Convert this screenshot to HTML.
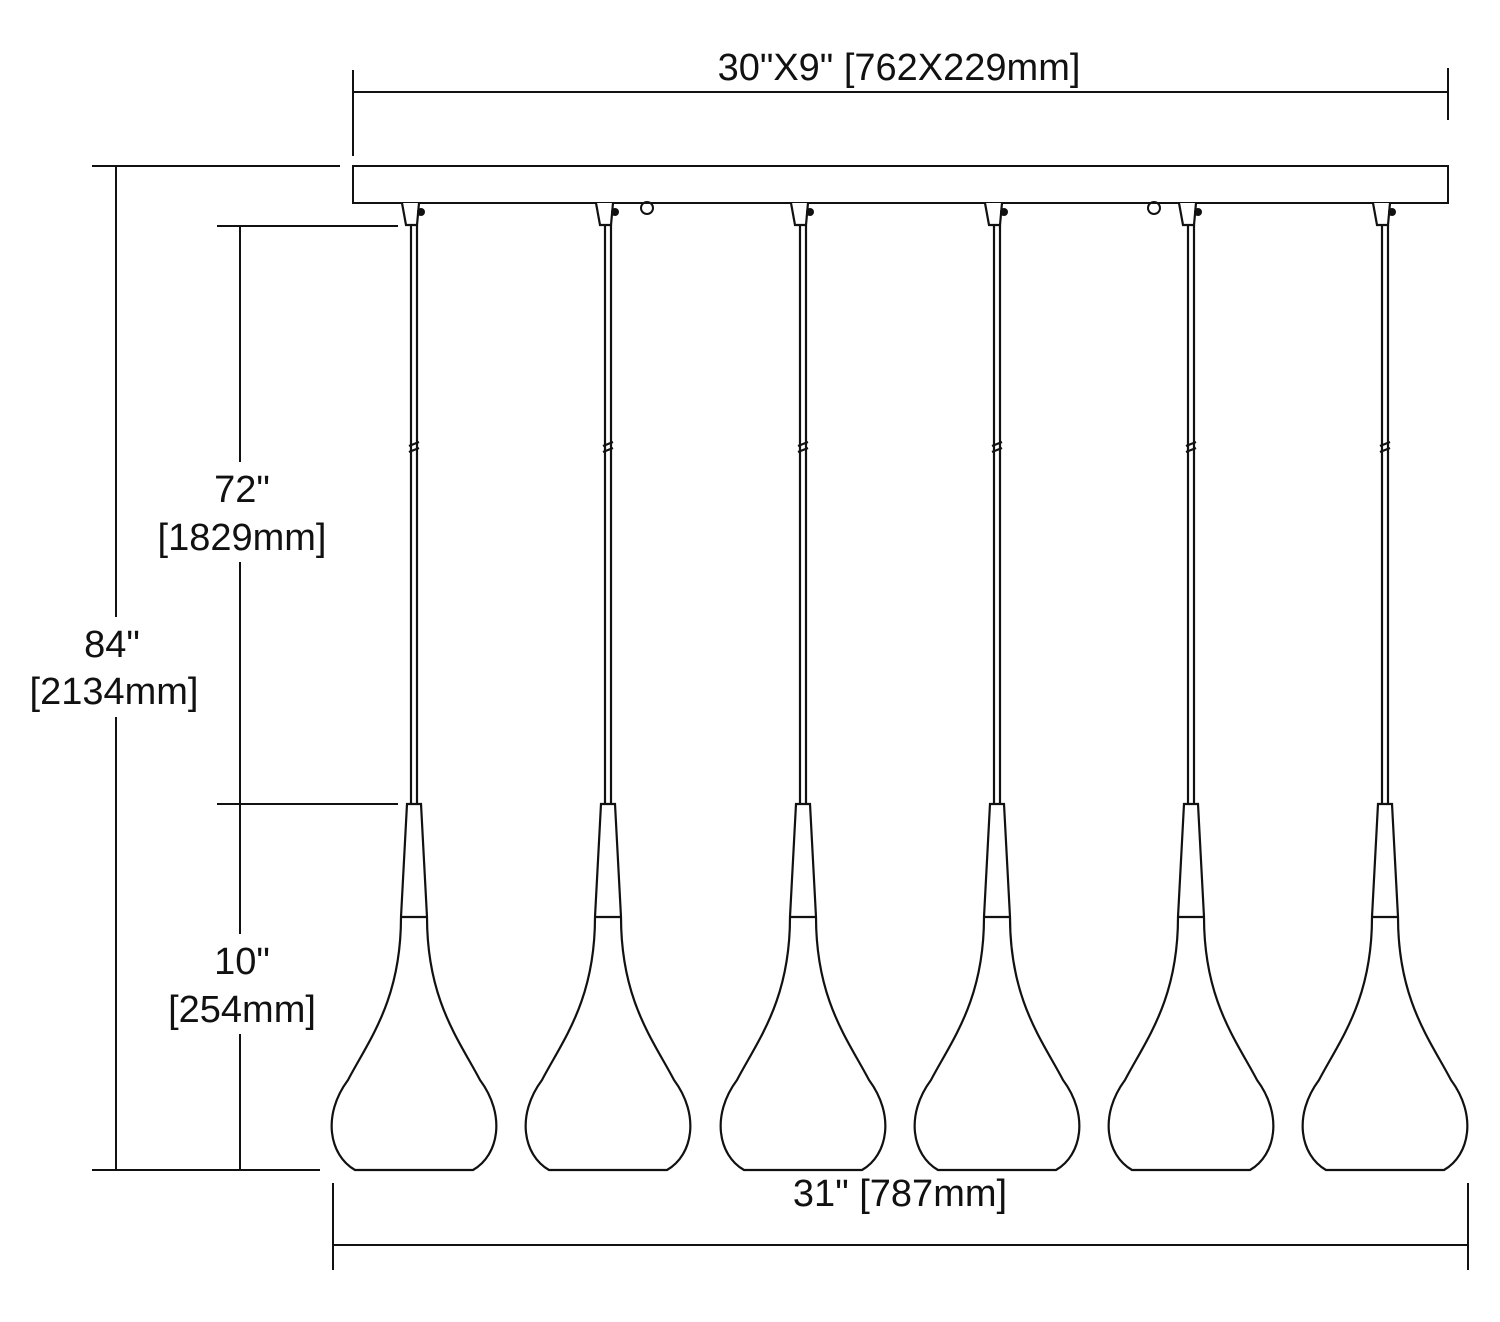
<!DOCTYPE html>
<html><head><style>
html,body{margin:0;padding:0;background:#fff}
svg{display:block}
text{font-family:"Liberation Sans",Arial,sans-serif;font-size:38px;fill:#111;text-anchor:middle}
</style></head><body>
<svg width="1500" height="1322" viewBox="0 0 1500 1322" xmlns="http://www.w3.org/2000/svg">
<defs>
<g id="p" fill="none" stroke="#111" stroke-width="2.2">
  <path d="M-12,203 L-8,225 L3,225 L5,203" fill="#fff"/>
  <circle cx="7" cy="212" r="4" fill="#111" stroke="none"/>
  <line x1="-3" y1="225" x2="-3" y2="804"/>
  <line x1="3" y1="225" x2="3" y2="804"/>
  <line x1="-5" y1="446" x2="5" y2="442"/>
  <line x1="-5" y1="452" x2="5" y2="448"/>
  <path d="M-7,804 L7,804 L13,917 C13,1000 45,1040 66,1080 C92,1115 85,1155 59,1170 L-59,1170 C-85,1155 -92,1115 -66,1080 C-45,1040 -13,1000 -13,917 Z" fill="#fff"/>
  <line x1="-13" y1="917" x2="13" y2="917"/>
</g>
</defs>
<g stroke="#111" stroke-width="2" fill="none">
  <rect x="353" y="166" width="1095" height="37"/>
  <line x1="353" y1="70" x2="353" y2="156"/>
  <line x1="1448" y1="68" x2="1448" y2="120"/>
  <line x1="353" y1="92" x2="1448" y2="92"/>
  <line x1="92" y1="166" x2="340" y2="166"/>
  <line x1="92" y1="1170" x2="320" y2="1170"/>
  <line x1="116" y1="166" x2="116" y2="1170"/>
  <line x1="217" y1="226" x2="398" y2="226"/>
  <line x1="217" y1="804" x2="398" y2="804"/>
  <line x1="240" y1="226" x2="240" y2="1170"/>
  <line x1="333" y1="1183" x2="333" y2="1270"/>
  <line x1="1468" y1="1183" x2="1468" y2="1270"/>
  <line x1="333" y1="1245" x2="1468" y2="1245"/>
  <circle cx="647" cy="208" r="6"/>
  <circle cx="1154" cy="208" r="6"/>
</g>
<use href="#p" x="414"/>
<use href="#p" x="608"/>
<use href="#p" x="803"/>
<use href="#p" x="997"/>
<use href="#p" x="1191"/>
<use href="#p" x="1385"/>
<g fill="#fff">
  <rect x="145" y="462" width="190" height="100"/>
  <rect x="20" y="617" width="190" height="100"/>
  <rect x="155" y="934" width="170" height="100"/>
</g>
<text x="899" y="80">30"X9" [762X229mm]</text>
<text x="242" y="502">72"</text>
<text x="242" y="550">[1829mm]</text>
<text x="112" y="657">84"</text>
<text x="114" y="704">[2134mm]</text>
<text x="242" y="974">10"</text>
<text x="242" y="1022">[254mm]</text>
<text x="900" y="1206">31" [787mm]</text>
</svg>
</body></html>
